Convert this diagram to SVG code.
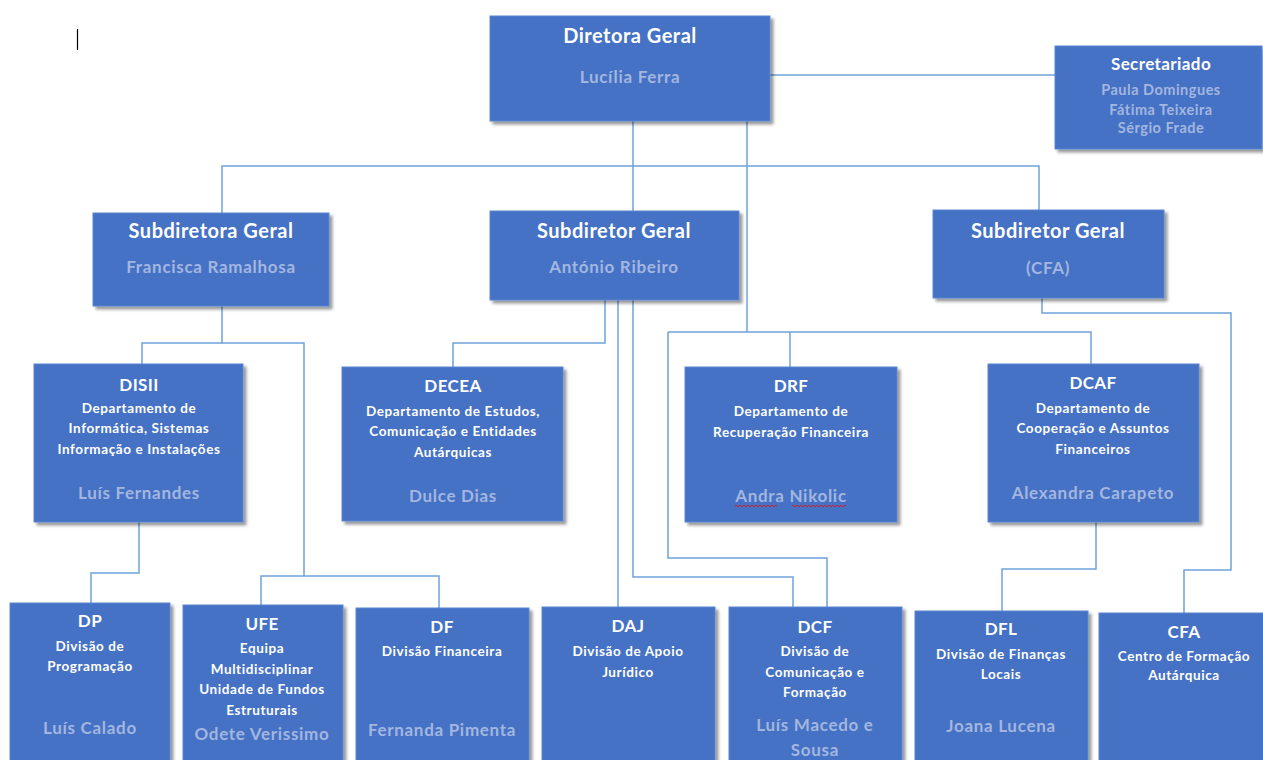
<svg xmlns="http://www.w3.org/2000/svg" width="1263" height="760" viewBox="0 0 1263 760">
<defs>
<filter id="sh" x="-10%" y="-10%" width="130%" height="130%">
<feDropShadow dx="3" dy="3" stdDeviation="1.8" flood-color="#000" flood-opacity="0.4"/>
</filter>
<style>
.box{fill:#4472C4;stroke:#5A86D0;stroke-width:1;filter:url(#sh)}
text{font-family:Lato,"Open Sans","Liberation Sans",sans-serif;font-weight:bold;text-anchor:middle}
.t{font-size:20px;fill:#fff;letter-spacing:0.5px}
.h{font-size:17px;fill:#fff;letter-spacing:0.4px}
.s{font-size:13.5px;fill:#fff;letter-spacing:0.6px}
.n{font-size:17px;fill:#A3B6E0;letter-spacing:0.7px}
.ns{font-size:14.5px;fill:#A3B6E0;letter-spacing:0.5px}
.c{fill:none;stroke:#6FA3DA;stroke-width:1.5}
</style>
</defs>
<rect width="1263" height="760" fill="#fff"/>
<line x1="77.5" y1="29" x2="77.5" y2="50" stroke="#000" stroke-width="1.2"/>
<g id="connectors" class="c">
<path d="M770,75 H1055"/>
<path d="M633,121 V211"/>
<path d="M222,213 V166 H1039 V210"/>
<path d="M747,121 V332"/>
<path d="M668,332 H1091 V364"/>
<path d="M790,332 V367"/>
<path d="M668,332 V558 H827 V607"/>
<path d="M605,300 V343 H453 V367"/>
<path d="M618,300 V607"/>
<path d="M633,300 V577 H793 V607"/>
<path d="M222,306 V343 H142 V364"/>
<path d="M222,343 H304 V576"/>
<path d="M261,605 V576 H439 V608"/>
<path d="M139,522 V573 H91 V603"/>
<path d="M1096,522 V569 H1002 V611"/>
<path d="M1042,298 V313 H1231 V570 H1184 V613"/>
</g>
<g id="diretora">
<rect class="box" x="490" y="16" width="280" height="105"/>
<text class="t" x="630" y="43">Diretora Geral</text>
<text class="n" x="630" y="83">Lucília Ferra</text>
</g>
<g id="secretariado">
<rect class="box" x="1055" y="46" width="207" height="103"/>
<text class="h" x="1161" y="70">Secretariado</text>
<text class="ns" x="1161" y="95">Paula Domingues</text>
<text class="ns" x="1161" y="115">Fátima Teixeira</text>
<text class="ns" x="1161" y="133">Sérgio Frade</text>
</g>
<g id="subdiretora">
<rect class="box" x="93" y="213" width="236" height="93"/>
<text class="t" x="211" y="238">Subdiretora Geral</text>
<text class="n" x="211" y="273">Francisca Ramalhosa</text>
</g>
<g id="subdiretor">
<rect class="box" x="490" y="211" width="249" height="89"/>
<text class="t" x="614" y="238">Subdiretor Geral</text>
<text class="n" x="614" y="273">António Ribeiro</text>
</g>
<g id="subdiretor-cfa">
<rect class="box" x="933" y="210" width="231" height="88"/>
<text class="t" x="1048" y="238">Subdiretor Geral</text>
<text class="n" x="1048" y="274">(CFA)</text>
</g>
<g id="disii">
<rect class="box" x="34" y="364" width="209" height="158"/>
<text class="h" x="139" y="391">DISII</text>
<text class="s" x="139" y="413">Departamento de</text>
<text class="s" x="139" y="433">Informática, Sistemas</text>
<text class="s" x="139" y="454">Informação e Instalações</text>
<text class="n" x="139" y="499">Luís Fernandes</text>
</g>
<g id="decea">
<rect class="box" x="342" y="367" width="221" height="154"/>
<text class="h" x="453" y="392">DECEA</text>
<text class="s" x="453" y="416">Departamento de Estudos,</text>
<text class="s" x="453" y="436">Comunicação  e Entidades</text>
<text class="s" x="453" y="457">Autárquicas</text>
<text class="n" x="453" y="502">Dulce Dias</text>
</g>
<g id="drf">
<rect class="box" x="685" y="367" width="212" height="155"/>
<text class="h" x="791" y="392">DRF</text>
<text class="s" x="791" y="416">Departamento de</text>
<text class="s" x="791" y="437">Recuperação  Financeira</text>
<text class="n" x="791" y="502">Andra Nikolic</text>
<path d="M735,506 q1,-1.5 2,0 t2,0 t2,0 t2,0 t2,0 t2,0 t2,0 t2,0 t2,0 t2,0 t2,0 t2,0 t2,0 t2,0 t2,0 t2,0 t2,0 t2,0 t2,0 t2,0 t2,0 M792,506 q1,-1.5 2,0 t2,0 t2,0 t2,0 t2,0 t2,0 t2,0 t2,0 t2,0 t2,0 t2,0 t2,0 t2,0 t2,0 t2,0 t2,0 t2,0 t2,0 t2,0 t2,0 t2,0 t2,0 t2,0 t2,0 t2,0 t2,0 t2,0" fill="none" stroke="#D0202A" stroke-width="1"/>
</g>
<g id="dcaf">
<rect class="box" x="988" y="364" width="211" height="158"/>
<text class="h" x="1093" y="389">DCAF</text>
<text class="s" x="1093" y="413">Departamento de</text>
<text class="s" x="1093" y="433">Cooperação  e Assuntos</text>
<text class="s" x="1093" y="454">Financeiros</text>
<text class="n" x="1093" y="499">Alexandra Carapeto</text>
</g>
<g id="dp">
<rect class="box" x="10" y="603" width="160" height="160"/>
<text class="h" x="90" y="627">DP</text>
<text class="s" x="90" y="651">Divisão  de</text>
<text class="s" x="90" y="671">Programação</text>
<text class="n" x="90" y="734">Luís Calado</text>
</g>
<g id="ufe">
<rect class="box" x="183" y="605" width="160" height="160"/>
<text class="h" x="262" y="630">UFE</text>
<text class="s" x="262" y="653">Equipa</text>
<text class="s" x="262" y="674">Multidisciplinar</text>
<text class="s" x="262" y="694">Unidade de Fundos</text>
<text class="s" x="262" y="715">Estruturais</text>
<text class="n" x="262" y="740">Odete Verissimo</text>
</g>
<g id="df">
<rect class="box" x="356" y="608" width="173" height="160"/>
<text class="h" x="442" y="633">DF</text>
<text class="s" x="442" y="656">Divisão  Financeira</text>
<text class="n" x="442" y="736">Fernanda Pimenta</text>
</g>
<g id="daj">
<rect class="box" x="542" y="607" width="173" height="160"/>
<text class="h" x="628" y="632">DAJ</text>
<text class="s" x="628" y="656">Divisão  de Apoio</text>
<text class="s" x="628" y="677">Jurídico</text>
</g>
<g id="dcf">
<rect class="box" x="729" y="607" width="173" height="160"/>
<text class="h" x="815" y="633">DCF</text>
<text class="s" x="815" y="656">Divisão  de</text>
<text class="s" x="815" y="677">Comunicação  e</text>
<text class="s" x="815" y="697">Formação</text>
<text class="n" x="815" y="731">Luís Macedo e</text>
<text class="n" x="815" y="756">Sousa</text>
</g>
<g id="dfl">
<rect class="box" x="915" y="611" width="173" height="160"/>
<text class="h" x="1001" y="635">DFL</text>
<text class="s" x="1001" y="659">Divisão  de Finanças</text>
<text class="s" x="1001" y="679">Locais</text>
<text class="n" x="1001" y="732">Joana Lucena</text>
</g>
<g id="cfa">
<rect class="box" x="1099" y="613" width="170" height="160"/>
<text class="h" x="1184" y="638">CFA</text>
<text class="s" x="1184" y="661">Centro de Formação</text>
<text class="s" x="1184" y="680">Autárquica</text>
</g>
</svg>
